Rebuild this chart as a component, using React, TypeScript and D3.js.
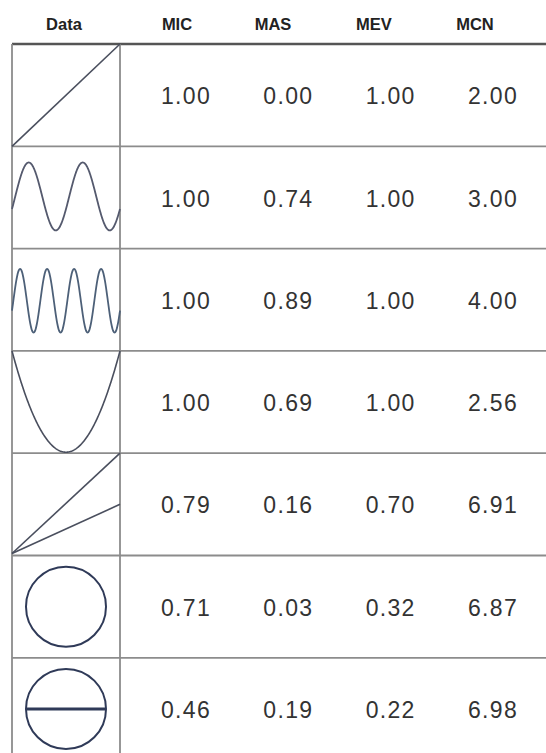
import React from "react";
import * as d3 from "d3";

// table contents
const columns = ["Data", "MIC", "MAS", "MEV", "MCN"];
const datasets = ["line", "sine2", "sine4", "parabola", "twoLines", "circle", "circleLine"];
const mic = [1.0, 1.0, 1.0, 1.0, 0.79, 0.71, 0.46];
const mas = [0.0, 0.74, 0.89, 0.69, 0.16, 0.03, 0.19];
const mev = [1.0, 1.0, 1.0, 1.0, 0.7, 0.32, 0.22];
const mcn = [2.0, 3.0, 4.0, 2.56, 6.91, 6.87, 6.98];

const W = 546;
const H = 753;
const left = 12;
const dataRight = 120;
const top = 44;
const rowH = 102.3;

const gridColor = "#8c8c8c";
const glyphColor = "#4a4f5e";
const circleColor = "#2f3a58";

function Glyph({ kind, y0, y1 }: { kind: string; y0: number; y1: number }) {
  const x = d3.scaleLinear().domain([0, 1]).range([left, dataRight]);
  const cy = (y0 + y1) / 2;
  const cx = (left + dataRight) / 2;
  const line = d3.line<[number, number]>();
  const ts = d3.range(0, 1.0001, 0.005);

  if (kind === "line") {
    return <path d={line([[left, y1], [dataRight, y0]])!} stroke={glyphColor} strokeWidth={1.6} fill="none" />;
  }
  if (kind === "sine2" || kind === "sine4") {
    const periods = kind === "sine2" ? 2 : 4;
    const amp = kind === "sine2" ? 34 : 32;
    const yc = kind === "sine2" ? cy - 1 : cy + 1;
    const offset = kind === "sine2" ? -0.06 : -0.05;
    const pts = ts.map((t) => [x(t), yc - amp * Math.sin(2 * Math.PI * (periods * t + offset))] as [number, number]);
    return (
      <path
        d={line.curve(d3.curveBasis)(pts)!}
        stroke={kind === "sine2" ? "#555a6e" : "#4d6078"}
        strokeWidth={1.8}
        fill="none"
      />
    );
  }
  if (kind === "parabola") {
    const pts = ts.map((t) => {
      const u = 2 * t - 1;
      return [x(t), y0 + (y1 - y0 - 1) * (1 - u * u)] as [number, number];
    });
    return <path d={line(pts)!} stroke={glyphColor} strokeWidth={1.6} fill="none" />;
  }
  if (kind === "twoLines") {
    return (
      <g stroke={glyphColor} strokeWidth={1.6} fill="none">
        <path d={line([[left, y1 - 2], [dataRight, y0]])!} />
        <path d={line([[left, y1 - 2], [dataRight, cy]])!} />
      </g>
    );
  }
  if (kind === "circle" || kind === "circleLine") {
    const r = 40;
    return (
      <g stroke={circleColor} fill="none">
        <circle cx={cx} cy={cy} r={r} strokeWidth={2} />
        {kind === "circleLine" && <path d={line([[cx - r, cy], [cx + r, cy]])!} strokeWidth={3} />}
      </g>
    );
  }
  return null;
}

export default function App() {
  const y = d3
    .scaleBand<number>()
    .domain(d3.range(datasets.length))
    .range([top, top + rowH * datasets.length]);
  const headerX = d3.scaleOrdinal<string, number>().domain(columns).range([64, 177, 273, 374, 475]);
  const valueX = d3.scaleLinear().domain([1, 4]).range([186, 493]);
  const fmt = d3.format(".2f");
  const valueCols = [mic, mas, mev, mcn];

  return (
    <svg
      width={W}
      height={H}
      style={{ position: "absolute", left: 0, top: 0, background: "#fff" }}
      fontFamily="'Liberation Sans', Arial, sans-serif"
    >
      {/* header */}
      {columns.map((c) => (
        <text key={c} x={headerX(c)} y={30} textAnchor="middle" fontSize={16.5} fontWeight="bold" fill="#222">
          {c}
        </text>
      ))}

      {/* grid */}
      {datasets.map((d, i) =>
        i === 0 ? null : (
          <line key={d} x1={left} x2={W} y1={y(i)!} y2={y(i)!} stroke={gridColor} strokeWidth={1.8} />
        )
      )}
      <line x1={left} x2={W} y1={top} y2={top} stroke="#555" strokeWidth={2.4} />
      <line x1={left} x2={left} y1={top} y2={H} stroke={gridColor} strokeWidth={1.8} />
      <line x1={dataRight} x2={dataRight} y1={top} y2={H} stroke={gridColor} strokeWidth={1.8} />

      {/* glyphs */}
      {datasets.map((d, i) => (
        <Glyph key={d} kind={d} y0={y(i)!} y1={y(i)! + y.bandwidth()} />
      ))}

      {/* values */}
      {datasets.map((d, i) =>
        valueCols.map((col, j) => (
          <text
            key={d + j}
            x={valueX(j + 1)}
            y={y(i)! + y.bandwidth() / 2 + 1}
            dy="0.35em"
            textAnchor="middle"
            fontSize={23}
            letterSpacing={1.3}
            fill="#333"
          >
            {fmt(col[i])}
          </text>
        ))
      )}
    </svg>
  );
}
